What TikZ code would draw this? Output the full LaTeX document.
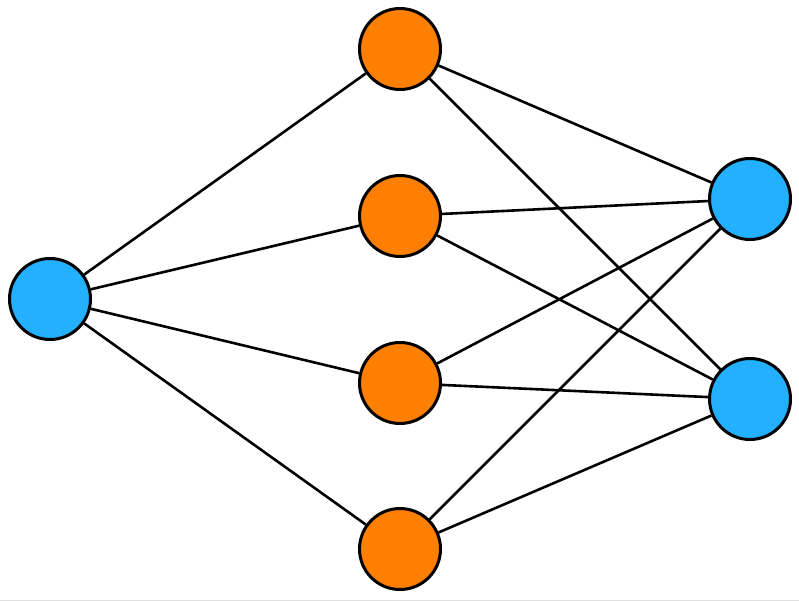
\documentclass[tikz,border=0pt]{standalone}
\definecolor{nodeblue}{HTML}{22B0FF}
\definecolor{nodeorange}{HTML}{FF8000}
\begin{document}
\begin{tikzpicture}[x=1pt,y=-1pt,
  neuron/.style={circle,draw=black,line width=3pt,minimum size=81pt,inner sep=0pt},
  io/.style={neuron,fill=nodeblue},
  hid/.style={neuron,fill=nodeorange},
  link/.style={line width=2.6pt,black}]
\useasboundingbox (0,0) rectangle (799,601);
\node[io]  (in) at (50,299) {};
\node[hid] (h1) at (400,49) {};
\node[hid] (h2) at (400,216) {};
\node[hid] (h3) at (400,383) {};
\node[hid] (h4) at (400,549) {};
\node[io]  (o1) at (750,199) {};
\node[io]  (o2) at (750,399) {};
\foreach \h in {h1,h2,h3,h4}{
  \draw[link] (in) -- (\h);
  \draw[link] (\h) -- (o1);
  \draw[link] (\h) -- (o2);
}
\draw[black!12,line width=1pt] (0,600) -- (799,600);
\end{tikzpicture}
\end{document}
